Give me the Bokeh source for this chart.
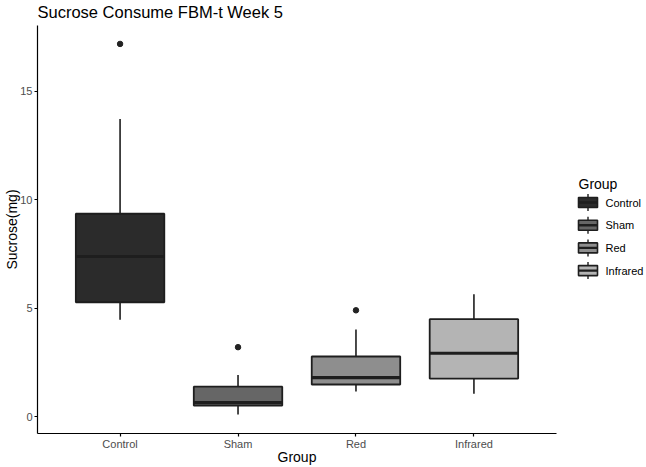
from bokeh.plotting import figure
from bokeh.layouts import row
from bokeh.models import ColumnDataSource, FactorRange, Range1d, FixedTicker
from bokeh.transform import dodge
from bokeh.core.properties import value
from bokeh.embed import file_html
from bokeh.resources import INLINE

# Sucrose consumption (mg), week 5, summarised per group
groups = ["Control", "Sham", "Red", "Infrared"]
lower_whisker = [4.46, 0.10, 1.16, 1.05]
q1 = [5.27, 0.51, 1.48, 1.75]
median = [7.38, 0.65, 1.80, 2.92]
q3 = [9.35, 1.38, 2.77, 4.49]
upper_whisker = [13.72, 1.92, 4.02, 5.64]
fills = ["#2b2b2b", "#666666", "#8e8e8e", "#b4b4b4"]

outlier_group = ["Control", "Sham", "Red"]
outlier_value = [17.18, 3.20, 4.90]

y_ticks = [0, 5, 10, 15]

FONT = "Liberation Sans"
EDGE = "#1e1e1e"

src = ColumnDataSource(dict(group=groups, lo=lower_whisker, q1=q1, med=median,
                            q3=q3, hi=upper_whisker, fill=fills))
out_src = ColumnDataSource(dict(group=outlier_group, val=outlier_value))

p = figure(
    width=560, height=467,
    x_range=FactorRange(factors=groups, range_padding=0.2, range_padding_units="absolute"),
    y_range=Range1d(-0.78, 18.03),
    output_backend="svg", toolbar_location=None,
    min_border_left=37, min_border_right=4, min_border_top=25, min_border_bottom=34,
    title="Sucrose Consume FBM-t Week 5",
)
p.title.text_font = FONT
p.title.text_font_size = "16.5px"
p.title.text_font_style = "normal"
p.title.text_color = "black"
p.title.vertical_align = "top"
p.title.standoff = 5
p.title.offset = 0

p.xgrid.visible = False
p.ygrid.visible = False
p.outline_line_color = None
p.background_fill_color = "white"

for ax in (p.xaxis[0], p.yaxis[0]):
    ax.axis_line_color = "black"
    ax.axis_line_width = 1.2
    ax.major_tick_line_color = "black"
    ax.major_tick_line_width = 1.2
    ax.major_tick_out = 3
    ax.major_tick_in = 0
    ax.minor_tick_line_color = None
    ax.major_label_text_font = FONT
    ax.major_label_text_font_size = "11px"
    ax.major_label_text_color = "#4d4d4d"
    ax.axis_label_text_font = FONT
    ax.axis_label_text_font_size = "14px"
    ax.axis_label_text_font_style = "normal"
    ax.axis_label_text_color = "black"

p.xaxis.axis_label = "Group"
p.yaxis.axis_label = "Sucrose(mg)"
p.xaxis.major_label_standoff = 1
p.xaxis.axis_label_standoff = -4
p.yaxis.major_label_standoff = 2
p.yaxis.axis_label_standoff = -3
p.yaxis.ticker = FixedTicker(ticks=y_ticks)

# whiskers
p.segment(x0="group", y0="q3", x1="group", y1="hi", source=src,
          line_color=EDGE, line_width=1.6)
p.segment(x0="group", y0="q1", x1="group", y1="lo", source=src,
          line_color=EDGE, line_width=1.6)
# boxes
p.vbar(x="group", bottom="q1", top="q3", width=0.75, source=src,
       fill_color="fill", line_color=EDGE, line_width=1.8)
# medians
p.segment(x0=dodge("group", -0.375, range=p.x_range), y0="med",
          x1=dodge("group", 0.375, range=p.x_range), y1="med",
          source=src, line_color=EDGE, line_width=3.2)
# outliers
p.scatter(x="group", y="val", source=out_src, size=5.5,
          fill_color="#222222", line_color="#222222")

# legend panel drawn as small boxplot keys; its frame lines up with the
# main frame (25 px .. 433 px from the top), so use pixel-like ranges
lg = figure(width=86, height=467, x_range=Range1d(0, 86), y_range=Range1d(433, 25),
            output_backend="svg", toolbar_location=None,
            min_border=0, min_border_left=0, min_border_right=0,
            min_border_top=25, min_border_bottom=34)
lg.axis.visible = False
lg.grid.visible = False
lg.outline_line_color = None

n = len(groups)
key_y = [202 + 22.7 * i for i in range(n)]
key_x = [27.5] * n
key_src = ColumnDataSource(dict(
    x=key_x, y=key_y, fill=fills, label=groups,
    top=[y - 5 for y in key_y], bot=[y + 5 for y in key_y],
    wtop=[y - 8.5 for y in key_y], wbot=[y + 8.5 for y in key_y],
    x0=[x - 9.5 for x in key_x], x1=[x + 9.5 for x in key_x],
    tx=[45] * n,
))
lg.segment(x0="x", y0="wtop", x1="x", y1="wbot", source=key_src,
           line_color=EDGE, line_width=1.4)
lg.quad(left="x0", right="x1", top="top", bottom="bot", source=key_src,
        fill_color="fill", line_color=EDGE, line_width=1.6)
lg.segment(x0="x0", y0="y", x1="x1", y1="y", source=key_src,
           line_color=EDGE, line_width=2.4)
lg.text(x="tx", y="y", text="label", source=key_src,
        text_font=value(FONT), text_font_size="11px", text_color="black",
        text_baseline="middle", text_align="left")
lg.text(x=[18], y=[183], text=["Group"],
        text_font=value(FONT), text_font_size="14px", text_color="black",
        text_baseline="middle", text_align="left")

layout = row(p, lg)
open("out.html", "w").write(file_html(layout, INLINE))
